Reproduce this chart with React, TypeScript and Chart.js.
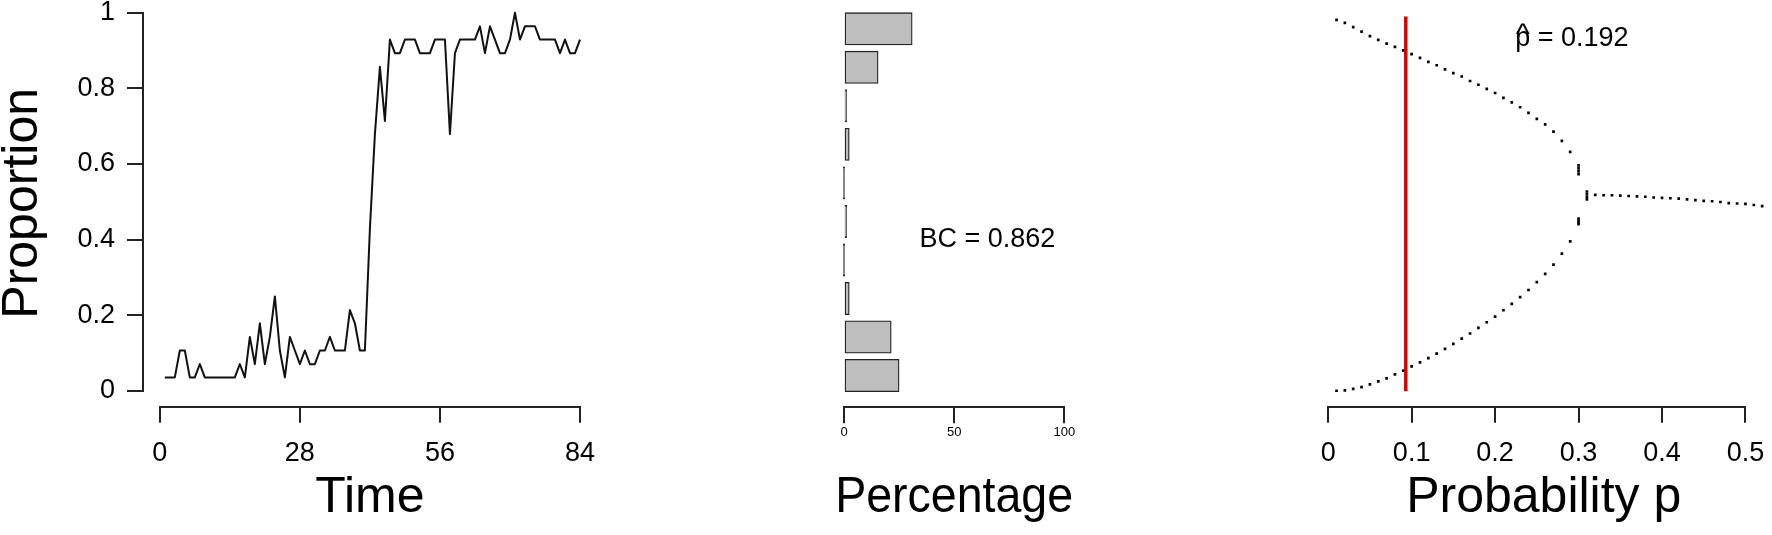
import React, { useEffect, useRef } from "react";
import { Chart, registerables } from "chart.js";

Chart.register(...registerables);

const FONT = '"Liberation Sans", Arial, Helvetica, sans-serif';
Chart.defaults.font.family = FONT;
Chart.defaults.color = "#000";

const INK = "#111111";
const AXIS = "#222222";

// ---------- Panel 1: proportion over time ----------
const timeIndex = [
  1, 2, 3, 4, 5, 6, 7, 8, 9, 10, 11, 12, 13, 14, 15, 16, 17, 18, 19, 20, 21,
  22, 23, 24, 25, 26, 27, 28, 29, 30, 31, 32, 33, 34, 35, 36, 37, 38, 39, 40,
  41, 42, 43, 44, 45, 46, 47, 48, 49, 50, 51, 52, 53, 54, 55, 56, 57, 58, 59,
  60, 61, 62, 63, 64, 65, 66, 67, 68, 69, 70, 71, 72, 73, 74, 75, 76, 77, 78,
  79, 80, 81, 82, 83, 84,
];
const proportion = [
  0.036, 0.036, 0.036, 0.107, 0.107, 0.036, 0.036, 0.071, 0.036, 0.036,
  0.036, 0.036, 0.036, 0.036, 0.036, 0.071, 0.036, 0.143, 0.071, 0.179,
  0.071, 0.143, 0.25, 0.107, 0.036, 0.143, 0.107, 0.071, 0.107, 0.071,
  0.071, 0.107, 0.107, 0.143, 0.107, 0.107, 0.107, 0.214, 0.179, 0.107,
  0.107, 0.429, 0.679, 0.857, 0.714, 0.929, 0.893, 0.893, 0.929, 0.929,
  0.929, 0.893, 0.893, 0.893, 0.929, 0.929, 0.929, 0.679, 0.893, 0.929,
  0.929, 0.929, 0.929, 0.964, 0.893, 0.964, 0.929, 0.893, 0.893, 0.929,
  1.0, 0.929, 0.964, 0.964, 0.964, 0.929, 0.929, 0.929, 0.929, 0.893,
  0.929, 0.893, 0.893, 0.929,
];
const timeTicks = [0, 28, 56, 84];
const proportionTicks = [0, 0.2, 0.4, 0.6, 0.8, 1];
const proportionTickLabels = ["0", "0.2", "0.4", "0.6", "0.8", "1"];

// ---------- Panel 2: histogram of proportions ----------
const binMidpoints = [0.05, 0.15, 0.25, 0.35, 0.45, 0.55, 0.65, 0.75, 0.85, 0.95];
const binPercentages = [25.0, 21.43, 2.38, 0, 1.19, 0, 2.38, 1.19, 15.48, 30.95];
const percentageTicks = [0, 50, 100];
const bcLabel = "BC = 0.862";

// ---------- Panel 3: equilibria vs probability p ----------
const upperP = [
  0.01, 0.02, 0.03, 0.04, 0.05, 0.06, 0.07, 0.08, 0.09, 0.1, 0.11, 0.12, 0.13,
  0.14, 0.15, 0.16, 0.17, 0.18, 0.19, 0.2, 0.21, 0.22, 0.23, 0.24, 0.25, 0.26,
  0.27, 0.28, 0.29, 0.3, 0.3, 0.3, 0.3,
];
const upperV = [
  0.991, 0.983, 0.972, 0.96, 0.948, 0.938, 0.928, 0.919, 0.91, 0.9, 0.89,
  0.879, 0.87, 0.859, 0.849, 0.84, 0.828, 0.818, 0.807, 0.796, 0.783, 0.771,
  0.758, 0.743, 0.727, 0.712, 0.693, 0.668, 0.639, 0.603, 0.595, 0.587, 0.579,
];
const lowerP = [
  0.01, 0.02, 0.03, 0.04, 0.05, 0.06, 0.07, 0.08, 0.09, 0.1, 0.11, 0.12, 0.13,
  0.14, 0.15, 0.16, 0.17, 0.18, 0.19, 0.2, 0.21, 0.22, 0.23, 0.24, 0.25, 0.26,
  0.27, 0.28, 0.29, 0.3, 0.3, 0.3, 0.3,
];
const lowerV = [
  0.001, 0.002, 0.006, 0.011, 0.018, 0.026, 0.034, 0.045, 0.055, 0.066, 0.077,
  0.088, 0.1, 0.113, 0.126, 0.14, 0.154, 0.169, 0.184, 0.199, 0.216, 0.233,
  0.251, 0.27, 0.291, 0.313, 0.338, 0.367, 0.4, 0.446, 0.451, 0.456, 0.461,
];
const middleP = [
  0.31, 0.31, 0.31, 0.31, 0.32, 0.33, 0.34, 0.35, 0.36, 0.37, 0.38, 0.39, 0.4,
  0.41, 0.42, 0.43, 0.44, 0.45, 0.46, 0.47, 0.48, 0.49, 0.5, 0.51, 0.52,
];
const middleV = [
  0.512, 0.519, 0.526, 0.533, 0.524, 0.523, 0.523, 0.522, 0.521, 0.52, 0.519,
  0.517, 0.516, 0.515, 0.514, 0.512, 0.51, 0.508, 0.507, 0.505, 0.502, 0.501,
  0.5, 0.497, 0.494,
];
const redLineP = 0.093;
const probabilityTicks = [0, 0.1, 0.2, 0.3, 0.4, 0.5];
const probabilityTickLabels = ["0", "0.1", "0.2", "0.3", "0.4", "0.5"];
const pHatLabel = "p = 0.192";

// ---------- helpers ----------
const titleFont = { family: FONT, size: 50, lineHeight: 1 };
const tickFont = { family: FONT, size: 27 };
const smallTickFont = { family: FONT, size: 13 };

const tickGrid = {
  display: true,
  drawOnChartArea: false,
  drawTicks: true,
  tickLength: 16,
  lineWidth: 2,
  color: AXIS,
};

const fit = (size: number) => (scale: any) => {
  if (scale.isHorizontal()) scale.height = size;
  else scale.width = size;
  scale.paddingLeft = 0;
  scale.paddingRight = 0;
  scale.paddingTop = 0;
  scale.paddingBottom = 0;
};
const setTicks = (values: number[]) => (scale: any) => {
  scale.ticks = values.map((v) => ({ value: v }));
};

const axisLinePlugin = {
  id: "axisLines",
  afterDraw(chart: any, _args: any, opts: any) {
    const ctx = chart.ctx;
    ctx.save();
    ctx.strokeStyle = AXIS;
    ctx.lineWidth = 2;
    ctx.lineCap = "square";
    for (const l of opts.lines || []) {
      const s = chart.scales[l.scale];
      const a = s.getPixelForValue(l.from);
      const b = s.getPixelForValue(l.to);
      ctx.beginPath();
      if (s.isHorizontal()) {
        const y = Math.round(s.top);
        ctx.moveTo(Math.round(a), y);
        ctx.lineTo(Math.round(b), y);
      } else {
        const x = Math.round(s.right);
        ctx.moveTo(x, Math.round(a));
        ctx.lineTo(x, Math.round(b));
      }
      ctx.stroke();
    }
    ctx.restore();
  },
};

const notesPlugin = {
  id: "notes",
  afterDatasetsDraw(chart: any, _args: any, opts: any) {
    const ctx = chart.ctx;
    for (const n of opts.items || []) {
      const x = chart.scales.x.getPixelForValue(n.x);
      const y = chart.scales.y.getPixelForValue(n.y);
      ctx.save();
      ctx.font = `${n.size}px ${FONT}`;
      ctx.fillStyle = "#000";
      ctx.textBaseline = "middle";
      ctx.textAlign = "center";
      ctx.fillText(n.text, x, y);
      if (n.hat) {
        const w = ctx.measureText(n.text).width;
        const pw = ctx.measureText(n.text[0]).width;
        ctx.font = `${n.size + 3}px ${FONT}`;
        ctx.fillText("^", x - w / 2 + pw / 2, y - 3);
      }
      ctx.restore();
    }
  },
};

const baseOptions = {
  responsive: false,
  animation: false,
  events: [],
};

function timeConfig(): any {
  return {
    type: "line",
    data: {
      datasets: [
        {
          data: timeIndex.map((t, i) => ({ x: t, y: proportion[i] })),
          borderColor: INK,
          borderWidth: 2,
          pointRadius: 0,
          tension: 0,
          fill: false,
          borderJoinStyle: "round",
        },
      ],
    },
    options: {
      ...baseOptions,
      layout: { padding: { left: -1.5, right: 23.2, top: 0, bottom: 11.5 } },
      plugins: {
        legend: { display: false },
        tooltip: { enabled: false },
        axisLines: {
          lines: [
            { scale: "x", from: 0, to: 84 },
            { scale: "y", from: 0, to: 1 },
          ],
        },
      },
      scales: {
        x: {
          type: "linear",
          bounds: "data",
          min: -3.36,
          max: 87.36,
          afterBuildTicks: setTicks(timeTicks),
          afterFit: fit(116.8),
          grid: tickGrid,
          border: { display: false },
          ticks: {
            font: tickFont,
            color: "#000",
            padding: 15,
            maxRotation: 0,
            minRotation: 0,
            autoSkip: false,
            callback: (v: any) => String(v),
          },
          title: { display: true, text: "Time", font: titleFont, color: "#000", padding: 0 },
        },
        y: {
          type: "linear",
          bounds: "data",
          min: -0.0415,
          max: 1.0336,
          afterBuildTicks: setTicks(proportionTicks),
          afterFit: fit(144.5),
          grid: tickGrid,
          border: { display: false },
          ticks: {
            font: tickFont,
            color: "#000",
            padding: 12,
            autoSkip: false,
            callback: (_v: any, i: number) => proportionTickLabels[i],
          },
          title: { display: true, text: "Proportion", font: titleFont, color: "#000", padding: 0 },
        },
      },
    },
    plugins: [axisLinePlugin],
  };
}

function histConfig(): any {
  return {
    type: "bar",
    data: {
      datasets: [
        {
          data: binMidpoints.map((m, i) => ({ x: binPercentages[i], y: m })),
          backgroundColor: "#bebebe",
          borderColor: AXIS,
          borderWidth: 1.3,
          borderSkipped: false,
          barThickness: 32.3,
          minBarLength: 1.5,
        },
      ],
    },
    options: {
      ...baseOptions,
      indexAxis: "y",
      layout: { padding: { left: 215.2, right: 106.9, top: 0, bottom: 11.5 } },
      plugins: {
        legend: { display: false },
        tooltip: { enabled: false },
        axisLines: { lines: [{ scale: "x", from: 0, to: 100 }] },
        notes: { items: [{ text: bcLabel, x: 65.1, y: 0.404, size: 27 }] },
      },
      scales: {
        x: {
          type: "linear",
          bounds: "data",
          min: -4,
          max: 104,
          offset: false,
          afterBuildTicks: setTicks(percentageTicks),
          afterFit: fit(116.2),
          grid: { ...tickGrid, offset: false },
          border: { display: false },
          ticks: {
            font: smallTickFont,
            color: "#000",
            padding: 1.5,
            maxRotation: 0,
            minRotation: 0,
            autoSkip: false,
            callback: (v: any) => String(v),
          },
          title: { display: true, text: "Percentage", font: titleFont, color: "#000", padding: 0 },
        },
        y: {
          type: "linear",
          bounds: "data",
          min: -0.0326,
          max: 1.0248,
          offset: false,
          grace: 0,
          grid: { offset: false },
          display: false,
        },
      },
    },
    plugins: [axisLinePlugin, notesPlugin],
  };
}

function probConfig(): any {
  const points = [
    ...upperP.map((p, i) => ({ x: p, y: upperV[i] })),
    ...lowerP.map((p, i) => ({ x: p, y: lowerV[i] })),
    ...middleP.map((p, i) => ({ x: p, y: middleV[i] })),
  ];
  return {
    type: "scatter",
    data: {
      datasets: [
        {
          type: "line",
          data: [
            { x: redLineP, y: 0 },
            { x: redLineP, y: 1 },
          ],
          borderColor: "#dd0000",
          borderWidth: 3.5,
          pointRadius: 0,
          fill: false,
        },
        {
          data: points,
          pointStyle: "rect",
          pointRadius: 1.9,
          backgroundColor: "#000",
          borderWidth: 0,
          showLine: false,
        },
      ],
    },
    options: {
      ...baseOptions,
      layout: { padding: { left: 139.5, right: 0, top: 0, bottom: 11.5 } },
      plugins: {
        legend: { display: false },
        tooltip: { enabled: false },
        axisLines: { lines: [{ scale: "x", from: 0, to: 0.5 }] },
        notes: { items: [{ text: pHatLabel, x: 0.292, y: 0.942, size: 27, hat: true }] },
      },
      scales: {
        x: {
          type: "linear",
          bounds: "data",
          min: -0.0104,
          max: 0.527,
          afterBuildTicks: setTicks(probabilityTicks),
          afterFit: fit(116.8),
          grid: tickGrid,
          border: { display: false },
          ticks: {
            font: tickFont,
            color: "#000",
            padding: 15,
            maxRotation: 0,
            minRotation: 0,
            autoSkip: false,
            callback: (_v: any, i: number) => probabilityTickLabels[i],
          },
          title: { display: true, text: "Probability p", font: titleFont, color: "#000", padding: 0 },
        },
        y: {
          type: "linear",
          bounds: "data",
          min: -0.0415,
          max: 1.0336,
          display: false,
        },
      },
    },
    plugins: [axisLinePlugin, notesPlugin],
  };
}

function ChartPanel({ left, width, makeConfig }: { left: number; width: number; makeConfig: () => any }) {
  const ref = useRef<HTMLCanvasElement>(null);
  useEffect(() => {
    const chart = new Chart(ref.current as HTMLCanvasElement, makeConfig());
    return () => chart.destroy();
  }, []);
  return (
    <canvas
      ref={ref}
      width={width}
      height={535}
      style={{ position: "absolute", left, top: 0, width, height: 535 }}
    />
  );
}

export default function App() {
  return (
    <div
      style={{
        position: "fixed",
        left: 0,
        top: 0,
        width: 1772,
        height: 535,
        overflow: "hidden",
        background: "#ffffff",
      }}
    >
      <ChartPanel left={0} width={620} makeConfig={timeConfig} />
      <ChartPanel left={620} width={560} makeConfig={histConfig} />
      <ChartPanel left={1180} width={592} makeConfig={probConfig} />
    </div>
  );
}
